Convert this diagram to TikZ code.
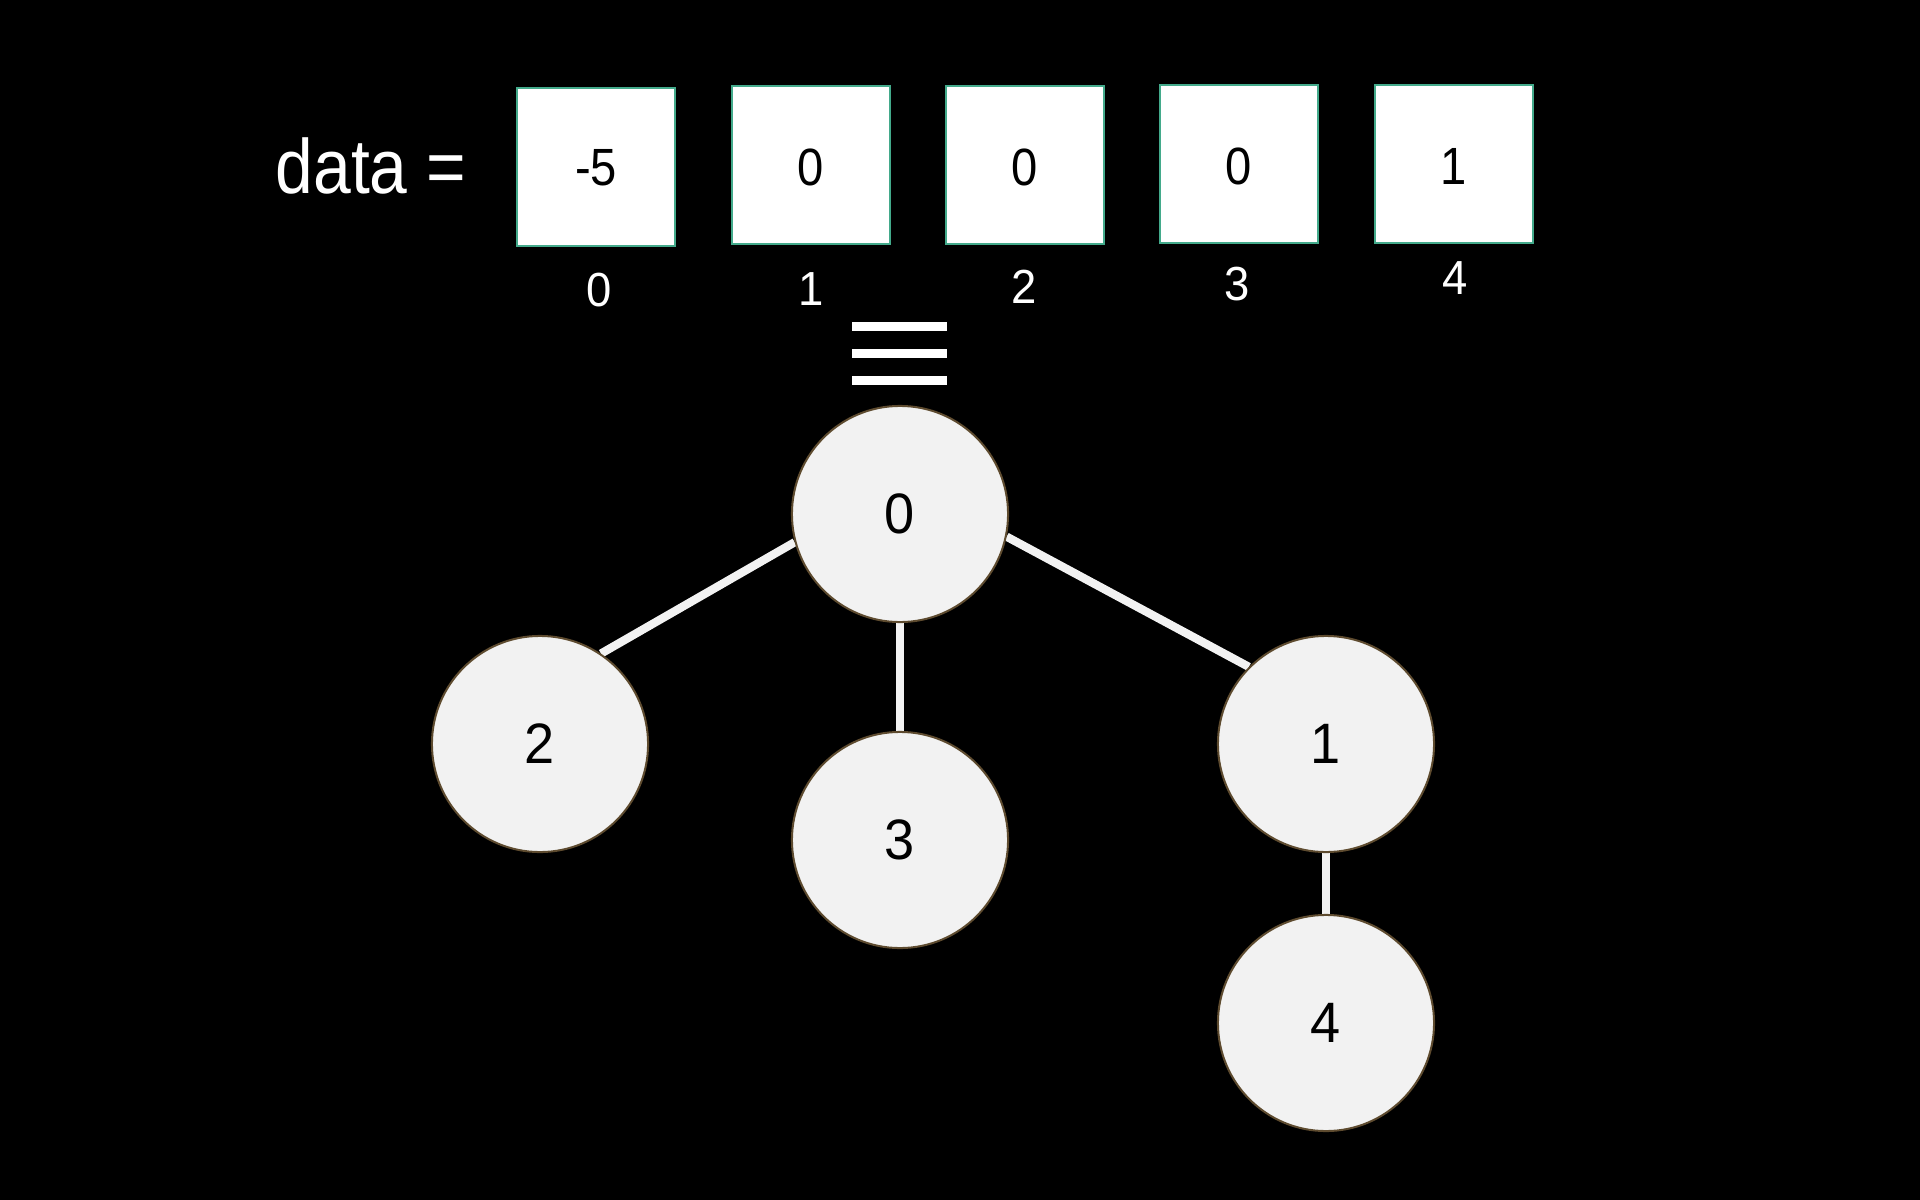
\documentclass[tikz,border=0pt]{standalone}
\usepackage{fontspec}
\setmainfont{Liberation Sans}
\newfontfamily\narrowfont[FakeStretch=0.88]{Liberation Sans}
\newfontfamily\cellfont[FakeStretch=0.9]{Liberation Sans}
\newfontfamily\idxfont[FakeStretch=0.95]{Liberation Sans}
\pgfdeclarelayer{bg}
\pgfsetlayers{bg,main}
\definecolor{boxline}{RGB}{67,170,139}
\definecolor{nodefill}{RGB}{242,242,242}
\definecolor{nodeline}{RGB}{94,75,47}
\tikzset{
  cell/.style={draw=boxline, line width=0.57pt, fill=white, minimum width=1.57cm, minimum height=1.57cm, inner sep=0pt, text=black},
  celltext/.style={inner sep=0pt, text=black, font=\cellfont\fontsize{14.9}{17}\selectfont},
  idx/.style={text=white, inner sep=0pt, font=\idxfont\fontsize{13.6}{15}\selectfont},
  vert/.style={circle, draw=nodeline, line width=0.57pt, fill=nodefill, minimum size=2.16cm, inner sep=0pt, font=\idxfont\fontsize{16.2}{18}\selectfont, text=black},
  edge/.style={draw=nodefill, line width=2.36pt},
  bar/.style={fill=white}
}
\begin{document}
\begin{tikzpicture}[x=0.01cm,y=-0.01cm]
\begin{pgfonlayer}{bg}
\fill[black] (0,0) rectangle (1920,1200);
\end{pgfonlayer}
\useasboundingbox (0,0) rectangle (1920,1200);

% label
\node[text=white, inner sep=0pt, font=\narrowfont\fontsize{21.9}{24}\selectfont, anchor=west] (lbl) at (275,166) {data =};

% array cells
\node[cell] (b0) at (596,167) {};
\node[cell] (b1) at (811,165) {};
\node[cell] (b2) at (1025,165) {};
\node[cell] (b3) at (1239,164) {};
\node[cell] (b4) at (1454,164) {};
\node[celltext] (t0) at (596,168) {-5};
\node[celltext] (t1) at (811,167) {0};
\node[celltext] (t2) at (1025,167) {0};
\node[celltext] (t3) at (1239,166) {0};
\node[celltext] (t4) at (1454,166) {1};

% indices
\node[idx] (i0) at (599,290) {0};
\node[idx] (i1) at (811,289) {1};
\node[idx] (i2) at (1024,287) {2};
\node[idx] (i3) at (1237,284) {3};
\node[idx] (i4) at (1455,278) {4};

% equivalence bars
\fill[bar] (852,322) rectangle (947,330.5);
\fill[bar] (852,349.3) rectangle (947,357.7);
\fill[bar] (852,376) rectangle (947,384.7);

% tree nodes
\node[vert] (n0) at (900,514) {0};
\node[vert] (n2) at (540,744) {2};
\node[vert] (n3) at (900,840) {3};
\node[vert] (n1) at (1326,744) {1};
\node[vert] (n4) at (1326,1023) {4};

% edges
\begin{pgfonlayer}{bg}
\draw[edge] (n0.195) -- (n2.56);
\draw[edge] (n0.south) -- (n3.north);
\draw[edge] (n0.-12.6) -- (n1.135.4);
\draw[edge] (n1.south) -- (n4.north);
\end{pgfonlayer}
\end{tikzpicture}
\end{document}
